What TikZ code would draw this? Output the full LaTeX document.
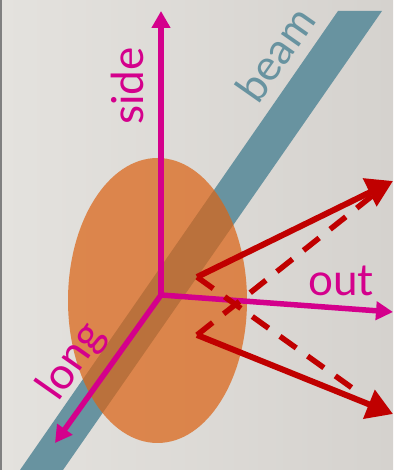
\documentclass[tikz,border=0pt]{standalone}
\usepackage{fontspec}
\setmainfont{Lato}
\usetikzlibrary{arrows.meta}

\definecolor{bgleft}{RGB}{228,226,222}
\definecolor{bgright}{RGB}{213,210,206}
\definecolor{beamcol}{RGB}{104,147,160}
\definecolor{blobcol}{RGB}{219,100,22}
\definecolor{axiscol}{RGB}{212,0,140}
\definecolor{momcol}{RGB}{192,0,0}

\begin{document}
\begin{tikzpicture}[
    x=1pt, y=1pt,
    axis/.style={draw=axiscol, line width=5.5pt, -{Triangle[length=17pt, width=18pt]}},
    axlabel/.style={text=axiscol, font=\fontsize{44}{44}\selectfont, inner sep=0pt},
    mom/.style={draw=momcol, line width=6pt, -{Triangle[length=26pt, width=30pt]}},
    momdash/.style={draw=momcol, line width=5.5pt, dash pattern=on 20pt off 14pt}
]
  % Background
  \shade[left color=bgleft, right color=bgright] (0,0) rectangle (393,470);
  \useasboundingbox (0,0) rectangle (393,470);
  \draw[gray, line width=1.5pt] (0.75,0) -- (0.75,470);

  % Beam band
  \fill[beamcol] (338,459) -- (382,459) -- (63,0) -- (20,0) -- cycle;
  \node[text=beamcol, font=\fontsize{43}{43}\selectfont, inner sep=0pt, rotate=55]
    (beamlbl) at (275,416) {beam};

  % Source ellipse
  \fill[blobcol, fill opacity=0.72] (157.5,169.5) ellipse [x radius=89.5, y radius=142.5];

  % Axes
  \coordinate (origin) at (161,175);
  \coordinate (sidetip) at (161,459);
  \coordinate (outtip) at (393,158);
  \coordinate (longtip) at (55,27);
  \draw[axis] (origin) -- (sidetip);
  \draw[axis] (origin) -- (outtip);
  \draw[axis] (origin) -- (longtip);
  \node[axlabel, rotate=90] (sidelbl) at (127,384) {side};
  \node[axlabel] (outlbl) at (341,189) {out};
  \node[axlabel, rotate=55] (longlbl) at (72,108) {long};

  % Pair momenta
  \coordinate (p1) at (197,193);
  \coordinate (p2) at (197,135);
  \coordinate (k1) at (393,289);
  \coordinate (k2) at (393,56);
  \coordinate (d1) at (355,80);
  \coordinate (d2) at (372,274);
  \draw[momdash] (p1) -- (d1);
  \draw[momdash] (p2) -- (d2);
  \draw[mom] (p1) -- (k1);
  \draw[mom] (p2) -- (k2);
\end{tikzpicture}
\end{document}
